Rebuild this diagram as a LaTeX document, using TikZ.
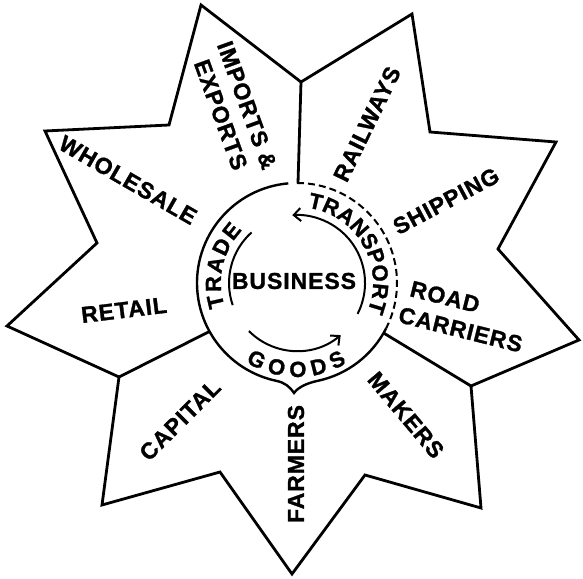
\documentclass[tikz,border=0pt]{standalone}
\usepackage{fontspec}
\setmainfont{Liberation Sans}
\newfontfamily\circbold[UprightFont={* Bold}, FakeBold=1.2]{Liberation Sans}
\usetikzlibrary{arrows.meta,decorations.text}
\newcommand\circfont{\circbold\fontsize{22}{22}\selectfont}
\begin{document}
\begin{tikzpicture}[x=1pt,y=1pt,
  starline/.style={line width=2.8pt, line join=miter},
  ring/.style={line width=2.4pt},
  inarc/.style={line width=2pt},
  barb/.style={-{Straight Barb[length=7pt,width=13pt,line width=2pt]}},
  lbl/.style={font=\bfseries\fontsize{23}{28}\selectfont\addfontfeature{LetterSpace=4,FakeBold=1.2}, inner sep=0pt}]
\useasboundingbox (0,0) rectangle (583,578);
\coordinate (c) at (297,295);
% star outline
\draw[starline] (201,573) -- (301,496) -- (412,564) -- (430,446) -- (556,436)
  -- (498,329) -- (579,238) -- (471,192) -- (481,70) -- (365,103) -- (292,4)
  -- (220,106) -- (102,73) -- (119,201) -- (7,252) -- (97,335) -- (45,447)
  -- (169,453) -- cycle;
% dividers
\coordinate (dtopA) at (301,496);
\coordinate (dtopB) at (298,395);
\coordinate (dleftA) at (119,201);
\coordinate (dleftB) at ([shift={(209:100)}]c);
\coordinate (drightA) at (471,192);
\coordinate (drightB) at ([shift={(-30:100)}]c);
\draw[starline] (dtopA) -- (dtopB);
\draw[starline] (dleftA) -- (dleftB);
\draw[starline] (drightA) -- (drightB);
% ring
\coordinate (cusp) at (294,185);
\draw[ring] ([shift={(95:100)}]c) arc[start angle=95, end angle=258, radius=100]
  .. controls +(-12:9) and +(125:8) .. (cusp)
  .. controls +(55:8) and +(192:9) .. ([shift={(282:100)}]c)
  arc[start angle=282, end angle=333, radius=100];
\draw[line width=2pt, dash pattern=on 7pt off 4pt] ([shift={(90:100)}]c) arc[start angle=90, end angle=-27, radius=100];
% inner arcs
\draw[inarc] ([shift={(132:68)}]c) arc[start angle=132, end angle=199, radius=68];
\draw[inarc,barb] ([shift={(-27:68)}]c) arc[start angle=-27, end angle=94, radius=68];
\draw[inarc,barb] ([shift={(225:68)}]c) arc[start angle=225, end angle=310, radius=68];
% curved texts
\path[font=\circfont, decorate, decoration={text along path, text align={fit to path}, text={|\circfont|TRADE}}]
  ([shift={(198:76)}]c) arc[start angle=198, end angle=136, radius=76];
\path[font=\circfont, decorate, decoration={text along path, text align={fit to path}, text={|\circfont|TRANSPORT}}]
  ([shift={(82:76)}]c) arc[start angle=82, end angle=-22, radius=76];
\path[font=\circfont, decorate, decoration={text along path, text align={fit to path}, text={|\circfont|GOODS}}]
  ([shift={(237:94)}]c) arc[start angle=237, end angle=302, radius=94];
% labels
\node[lbl] (bus) at (294,297) {BUSINESS};
\node[lbl, rotate=-70, align=center] (imp) at (234,468) {IMPORTS \&\\EXPORTS};
\node[lbl, rotate=64] (rail) at (367,454) {RAILWAYS};
\node[lbl, rotate=28] (ship) at (446,377) {SHIPPING};
\node[lbl, rotate=-14, align=left] (road) at (464,262) {\hspace*{5pt}ROAD\\CARRIERS};
\node[lbl, rotate=-50] (mak) at (406,163) {MAKERS};
\node[lbl, rotate=90] (farm) at (296,114) {FARMERS};
\node[lbl, rotate=45] (cap) at (180,158) {CAPITAL};
\node[lbl, rotate=7] (ret) at (124,268) {RETAIL};
\node[lbl, rotate=-30] (whole) at (128,398) {WHOLESALE};
\end{tikzpicture}
\end{document}
